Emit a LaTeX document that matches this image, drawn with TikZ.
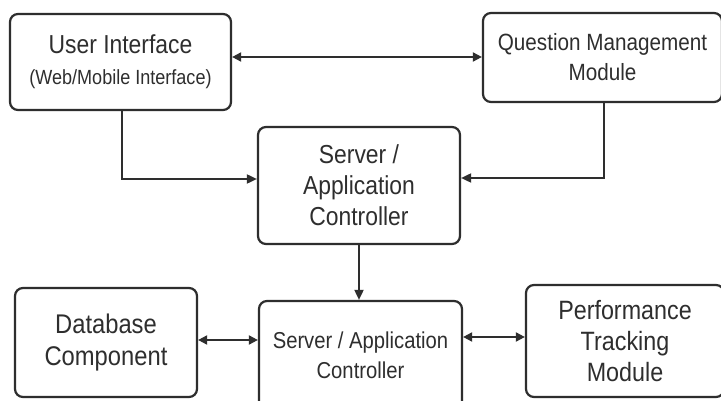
\documentclass[tikz,border=0pt]{standalone}
\usepackage{fontspec}
\setmainfont{Liberation Sans}[FakeStretch=0.88]
\usetikzlibrary{arrows.meta}
\definecolor{ink}{HTML}{2E2E2E}
\tikzset{
  box/.style={draw=ink, line width=2.2pt, rounded corners=8pt, inner sep=0pt, align=center, text=ink, fill=white},
  conn/.style={draw=ink, line width=1.8pt, -{Triangle[length=10pt,width=9pt]}},
  biconn/.style={draw=ink, line width=1.8pt, {Triangle[length=9pt,width=9pt]}-{Triangle[length=9pt,width=9pt]}},
}
\newcommand{\fs}[2]{\fontsize{#1pt}{#2pt}\selectfont}
\begin{document}
\begin{tikzpicture}[x=1pt,y=-1pt]
\useasboundingbox (0,0) rectangle (721,401);
\fill[white] (0,0) rectangle (721,401);
% boxes
\node[box, minimum width=221pt, minimum height=96pt, font=\fs{26}{31}] (ui) at (120.5,62)
  {User Interface\\{\fs{20.5}{26}(Web/Mobile Interface)}};
\node[box, minimum width=239pt, minimum height=89pt, font=\fs{23.5}{30}] (qm) at (602.5,57.5)
  {Question Management\\Module};
\node[box, minimum width=202pt, minimum height=117pt, font=\fs{26}{31}] (mid) at (359,185.5)
  {Server /\\Application\\Controller};
\node[box, minimum width=182pt, minimum height=109pt, font=\fs{27}{32}] (db) at (106,342.5)
  {Database\\Component};
\node[box, minimum width=203pt, minimum height=108pt, font=\fs{23}{30}] (srv) at (360.5,355)
  {Server / Application\\Controller};
\node[box, minimum width=198pt, minimum height=112pt, font=\fs{26.5}{31}] (perf) at (625,341)
  {Performance\\Tracking\\Module};
% connectors
\coordinate (uiq) at (ui.east |- 0,57);
\coordinate (qmu) at (qm.west |- 0,57);
\draw[biconn] (uiq) -- (qmu);
\coordinate (uib) at (122,0);
\draw[conn] (ui.south -| uib) |- (mid.west |- 0,179);
\coordinate (qmb) at (604,0);
\draw[conn] (qm.south -| qmb) |- (mid.east |- 0,178);
\draw[conn] (mid.south) -- (srv.north -| mid.south);
\draw[biconn] (db.east |- 0,340) -- (srv.west |- 0,340);
\draw[biconn] (srv.east |- 0,337) -- (perf.west |- 0,337);
\end{tikzpicture}
\end{document}
